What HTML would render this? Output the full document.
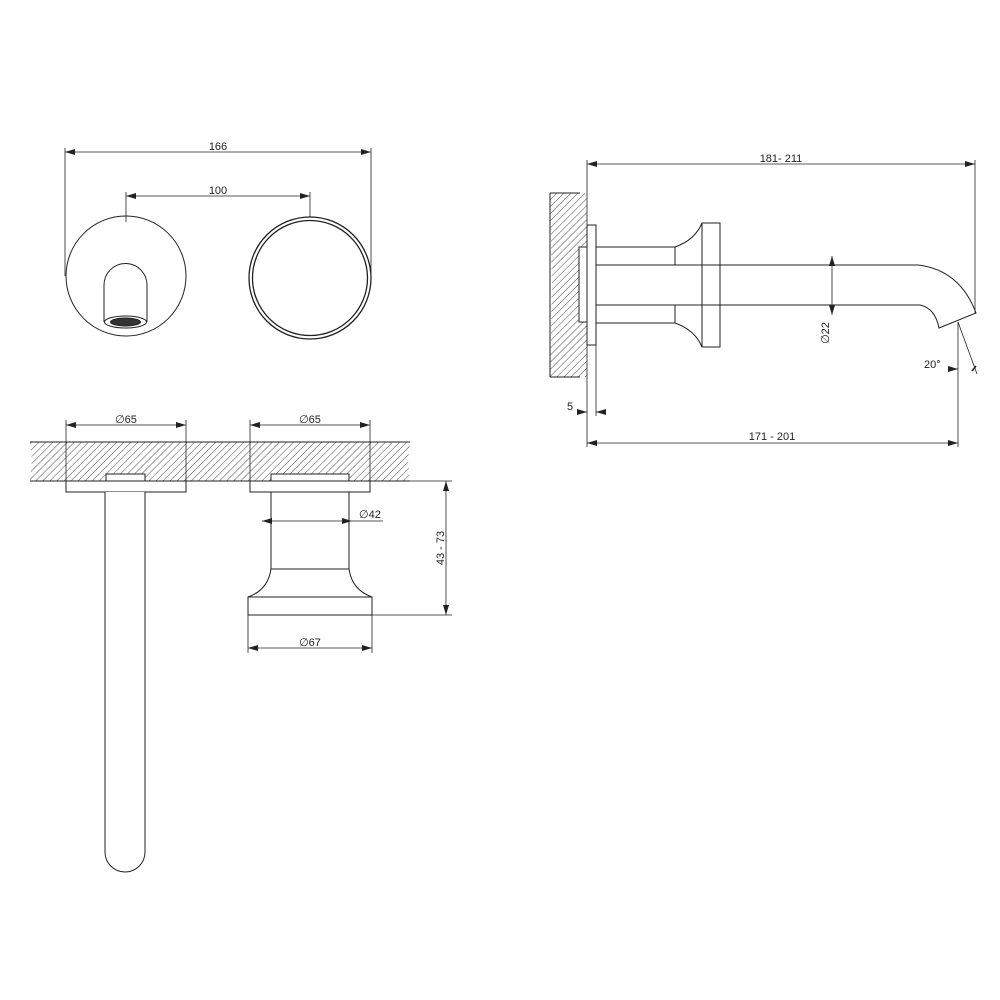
<!DOCTYPE html>
<html><head><meta charset="utf-8"><style>html,body{margin:0;padding:0;background:#fff}svg{display:block}</style></head>
<body>
<svg width="1000" height="1000" viewBox="0 0 1000 1000" xmlns="http://www.w3.org/2000/svg" font-family="Liberation Sans, sans-serif" font-size="11" fill="none" stroke="#222" stroke-width="1">
<defs>
<pattern id="h" width="5" height="5" patternUnits="userSpaceOnUse" patternTransform="rotate(45)">
<line x1="0" y1="0" x2="0" y2="5" stroke="#333" stroke-width="0.9"/>
</pattern>
<marker id="a" viewBox="0 0 10 6" refX="10" refY="3" markerWidth="10" markerHeight="6" orient="auto-start-reverse" markerUnits="userSpaceOnUse"><path d="M0,0 L10,3 L0,6z" fill="#222" stroke="none"/></marker>
</defs>

<!-- TOP VIEW -->
<line x1="65" y1="148" x2="65" y2="276" stroke-width="0.8"/>
<line x1="371" y1="148" x2="371" y2="278" stroke-width="0.8"/>
<line x1="65" y1="152" x2="371" y2="152" stroke-width="0.8" marker-start="url(#a)" marker-end="url(#a)"/>
<text x="218" y="150" fill="#222" stroke="none" text-anchor="middle">166</text>
<line x1="126" y1="192" x2="126" y2="222" stroke-width="0.8"/>
<line x1="310" y1="192" x2="310" y2="217" stroke-width="0.8"/>
<line x1="126" y1="196" x2="310" y2="196" stroke-width="0.8" marker-start="url(#a)" marker-end="url(#a)"/>
<text x="218" y="194" fill="#222" stroke="none" text-anchor="middle">100</text>
<circle cx="126" cy="276" r="60"/>
<path d="M104,322 L104,285 A21.5,21.5 0 0 1 147,285 L147,322"/>
<ellipse cx="125.5" cy="322" rx="21" ry="6"/>
<ellipse cx="125.5" cy="322" rx="15" ry="4" fill="#333"/>
<circle cx="310" cy="278" r="61" stroke-width="1.3"/>
<circle cx="310" cy="278" r="57.5" stroke-width="1.3"/>

<!-- LOWER LEFT SECTION -->
<path d="M30,442 L410,442 L408,460 L410,481 L30,481 L32,460 Z" fill="url(#h)" stroke="none"/>
<line x1="30" y1="442" x2="410" y2="442"/>
<line x1="30" y1="481" x2="410" y2="481"/>
<line x1="66" y1="420" x2="66" y2="492" stroke-width="0.8"/>
<line x1="186" y1="420" x2="186" y2="492" stroke-width="0.8"/>
<line x1="66" y1="425" x2="186" y2="425" stroke-width="0.8" marker-start="url(#a)" marker-end="url(#a)"/>
<text x="126" y="423" fill="#222" stroke="none" text-anchor="middle">∅65</text>
<rect x="66" y="481" width="120" height="11" fill="#fff"/>
<rect x="106" y="474" width="39" height="7" fill="#fff"/>
<path d="M105,492 L105,852 A20,20 0 0 0 145,852 L145,492" fill="#fff"/>

<line x1="250" y1="420" x2="250" y2="492" stroke-width="0.8"/>
<line x1="370" y1="420" x2="370" y2="492" stroke-width="0.8"/>
<line x1="250" y1="425" x2="370" y2="425" stroke-width="0.8" marker-start="url(#a)" marker-end="url(#a)"/>
<text x="310" y="423" fill="#222" stroke="none" text-anchor="middle">∅65</text>
<rect x="250" y="481" width="120" height="11" fill="#fff"/>
<rect x="271" y="474" width="78" height="7" fill="#fff"/>
<path d="M271,492 L271,569 L349,569 L349,492"/>
<path d="M271,569 Q268,590 248,597 L372,597 Q352,590 349,569"/>
<rect x="248" y="597" width="124" height="18"/>
<line x1="262" y1="521" x2="352" y2="521" stroke-width="0.8" marker-start="url(#a)" marker-end="url(#a)"/>
<line x1="352" y1="521" x2="383" y2="521" stroke-width="0.8"/>
<text x="359" y="518" fill="#222" stroke="none">∅42</text>
<line x1="410" y1="481" x2="452" y2="481" stroke-width="0.8"/>
<line x1="372" y1="615" x2="452" y2="615" stroke-width="0.8"/>
<line x1="446" y1="481" x2="446" y2="615" stroke-width="0.8" marker-start="url(#a)" marker-end="url(#a)"/>
<text transform="translate(444,548) rotate(-90)" fill="#222" stroke="none" text-anchor="middle">43 - 73</text>
<line x1="248" y1="615" x2="248" y2="653" stroke-width="0.8"/>
<line x1="372" y1="615" x2="372" y2="653" stroke-width="0.8"/>
<line x1="248" y1="648" x2="372" y2="648" stroke-width="0.8" marker-start="url(#a)" marker-end="url(#a)"/>
<text x="310" y="646" fill="#222" stroke="none" text-anchor="middle">∅67</text>

<!-- SIDE VIEW -->
<path d="M550,193 L587,193 L587,377 L550,377 L552,285 Z" fill="url(#h)" stroke="none"/>
<path d="M550,193 L580,193 M550,377 L580,377 M550,193 L550,377" stroke-width="1"/>
<line x1="587" y1="160" x2="587" y2="447" stroke-width="0.8"/>
<line x1="975" y1="160" x2="975" y2="314" stroke-width="0.8"/>
<line x1="587" y1="164" x2="975" y2="164" stroke-width="0.8" marker-start="url(#a)" marker-end="url(#a)"/>
<text x="781" y="162" fill="#222" stroke="none" text-anchor="middle">181- 211</text>
<rect x="579" y="247" width="8" height="75" fill="#fff"/>
<rect x="587" y="225" width="9" height="120" fill="#fff"/>
<line x1="596" y1="345" x2="596" y2="416" stroke-width="0.8"/>
<path d="M596,247 L675,247 M596,323 L675,323"/>
<path d="M675,247 L675,265 M675,305 L675,323"/>
<path d="M675,247 Q695,240 702,223 M675,323 Q695,330 702,347"/>
<rect x="702" y="223" width="18" height="124"/>
<path d="M596,265 L918,265 Q960,270 976,313 L939,328 Q935,308 920,305 L596,305"/>
<line x1="832" y1="256" x2="832" y2="315" stroke-width="0.8" marker-start="url(#a)" marker-end="url(#a)"/>
<text transform="translate(829,333) rotate(-90)" fill="#222" stroke="none" text-anchor="middle">∅22</text>
<line x1="958" y1="322" x2="958" y2="447" stroke-width="0.8"/>
<line x1="958" y1="322" x2="977" y2="374" stroke-width="0.8"/>
<line x1="948" y1="369" x2="958" y2="369" stroke-width="0.8" marker-end="url(#a)"/>
<path d="M976,366 L972,371" stroke-width="1.5"/>
<text x="924" y="368" fill="#222" stroke="none">20°</text>
<line x1="578" y1="412" x2="587" y2="412" stroke-width="0.8" marker-end="url(#a)"/>
<line x1="596" y1="412" x2="605" y2="412" stroke-width="0.8" marker-start="url(#a)"/>
<text x="567" y="410" fill="#222" stroke="none">5</text>
<line x1="587" y1="443" x2="958" y2="443" stroke-width="0.8" marker-start="url(#a)" marker-end="url(#a)"/>
<text x="772" y="440" fill="#222" stroke="none" text-anchor="middle">171 - 201</text>
</svg>
</body></html>
